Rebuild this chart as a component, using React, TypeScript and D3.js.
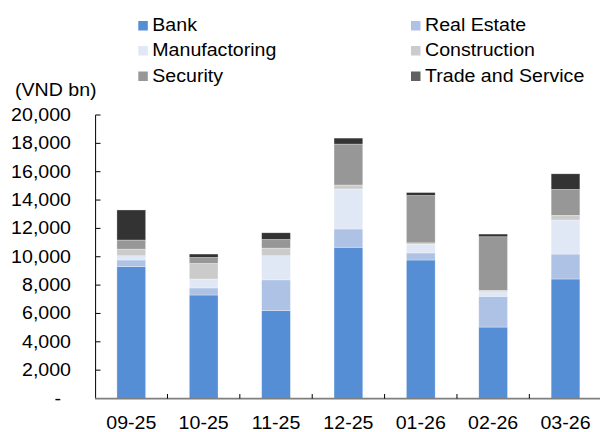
import React from "react";
import * as d3 from "d3";

const categories = ["09-25", "10-25", "11-25", "12-25", "01-26", "02-26", "03-26"];
const seriesNames = ["Bank", "Real Estate", "Manufactoring", "Construction", "Security", "Trade and Service"];
const bank = [9300, 7300, 6200, 10670, 9770, 5040, 8430];
const realEstate = [470, 500, 2170, 1290, 500, 2170, 1760];
const manufactoring = [300, 630, 1700, 2820, 610, 320, 2400];
const construction = [470, 1100, 540, 280, 100, 100, 330];
const security = [640, 420, 610, 2890, 3340, 3780, 1830];
const tradeService = [2120, 240, 470, 420, 210, 190, 1100];
const yTicks = [0, 2000, 4000, 6000, 8000, 10000, 12000, 14000, 16000, 18000, 20000];

const colors = ["#558ED5", "#ADC2E5", "#E0E7F5", "#CBCBCB", "#979797", "#333333"];
const legendColors = ["#558ED5", "#ADC2E5", "#E0E7F5", "#CBCBCB", "#979797", "#616161"];

const FONT = "'Liberation Sans', Arial, sans-serif";
const FS = 17.5;
const SX = 1.12;

function T({ x, y, anchor = "start", children }: any) {
  return (
    <text
      transform={`translate(${x},${y}) scale(${SX},1)`}
      textAnchor={anchor}
      fontFamily={FONT}
      fontSize={FS}
      fill="#000"
    >
      {children}
    </text>
  );
}

export default function App() {
  const keys = seriesNames;
  const table = categories.map((c, i) => ({
    cat: c,
    [keys[0]]: bank[i],
    [keys[1]]: realEstate[i],
    [keys[2]]: manufactoring[i],
    [keys[3]]: construction[i],
    [keys[4]]: security[i],
    [keys[5]]: tradeService[i],
  }));
  const stacked = d3.stack<any>().keys(keys)(table);

  const x = d3.scaleBand<string>().domain(categories).range([95.1, 601.7]).paddingInner(0.603).paddingOuter(0.3015);
  const y = d3.scaleLinear().domain([0, 20000]).range([398.5, 115]);
  const step = x.step();

  const legendPos = [
    { x: 138.3, y: 21 },
    { x: 411, y: 21 },
    { x: 138.3, y: 46 },
    { x: 411, y: 46 },
    { x: 138.3, y: 71.5 },
    { x: 411, y: 71.5 },
  ];

  return (
    <svg width={600} height={432} style={{ position: "absolute", left: 0, top: 0, background: "#fff" }}>
      <rect x={0} y={0} width={600} height={432} fill="#fff" />
      {/* bars */}
      {stacked.map((s, si) => (
        <g key={si}>
          {s.map((d: any, i: number) => (
            <rect
              key={i}
              x={x(categories[i])!}
              y={y(d[1])}
              width={x.bandwidth()}
              height={y(d[0]) - y(d[1])}
              fill={colors[si]}
              stroke="#ffffff"
              strokeOpacity={0.5}
              strokeWidth={0.6}
            />
          ))}
        </g>
      ))}
      {/* y axis */}
      <line x1={95.6} x2={95.6} y1={y(20000)} y2={y(0)} stroke="#000" strokeWidth={1} />
      {yTicks.map((t) => (
        <g key={t}>
          <line x1={95.6} x2={100.5} y1={y(t)} y2={y(t)} stroke="#000" strokeWidth={1} />
          {t === 0 ? (
            <T x={61} y={y(t) + 6} anchor="end">-</T>
          ) : (
            <T x={71} y={y(t) + 6} anchor="end">{d3.format(",")(t)}</T>
          )}
        </g>
      ))}
      {/* x axis */}
      <line x1={95.1} x2={601.7} y1={398.6} y2={398.6} stroke="#7f7f7f" strokeWidth={1.6} />
      {categories.slice(1).map((c) => (
        <line key={c} x1={x(c)! - (step - x.bandwidth()) / 2} x2={x(c)! - (step - x.bandwidth()) / 2} y1={398.6} y2={394} stroke="#000" strokeWidth={1} />
      ))}
      {categories.map((c) => (
        <T key={c} x={x(c)! + x.bandwidth() / 2} y={429} anchor="middle">{c}</T>
      ))}
      {/* unit label */}
      <T x={15} y={96}>(VND bn)</T>
      {/* legend */}
      {seriesNames.map((n, i) => (
        <g key={n}>
          <rect x={legendPos[i].x} y={legendPos[i].y} width={9.5} height={9.5} fill={legendColors[i]} />
          <T x={legendPos[i].x + 14} y={legendPos[i].y + 10}>{n}</T>
        </g>
      ))}
    </svg>
  );
}
